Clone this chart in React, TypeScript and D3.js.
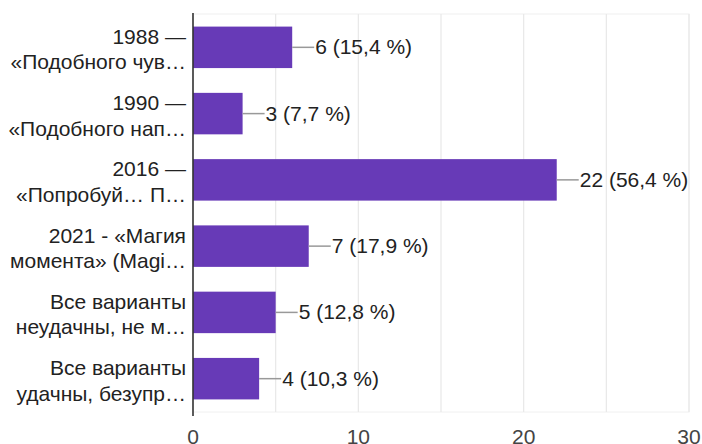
import * as d3 from "d3";
import { useEffect, useRef } from "react";

const categories: string[][] = [
  ["1988 —", "«Подобного чув…"],
  ["1990 —", "«Подобного нап…"],
  ["2016 —", "«Попробуй… П…"],
  ["2021 - «Магия", "момента» (Magi…"],
  ["Все варианты", "неудачны, не м…"],
  ["Все варианты", "удачны, безупр…"],
];
const counts = [6, 3, 22, 7, 5, 4];
const percents = ["15,4", "7,7", "56,4", "17,9", "12,8", "10,3"];
const xTicks = [0, 10, 20, 30];
const gridTicks = [5, 10, 15, 20, 25, 30];

function App() {
  const ref = useRef<SVGSVGElement>(null);

  useEffect(() => {
    const width = 702;
    const height = 444;
    const left = 193;
    const right = 689;
    const top = 14;
    const bottom = 412;
    const font = "'Liberation Sans', Arial, sans-serif";

    const svg = d3.select(ref.current).attr("width", width).attr("height", height);

    const x = d3.scaleLinear().domain([0, 30]).range([left, right]);
    const y = d3
      .scaleBand<number>()
      .domain(d3.range(counts.length))
      .range([top, bottom])
      .paddingInner(0.374)
      .paddingOuter(0.19);

    // chart area frame + gridlines
    svg
      .append("rect")
      .attr("x", left)
      .attr("y", top)
      .attr("width", right - left)
      .attr("height", bottom - top)
      .attr("fill", "none")
      .attr("stroke", "#f0f0f0")
      .attr("stroke-width", 1);

    svg
      .append("g")
      .selectAll("line")
      .data(gridTicks)
      .join("line")
      .attr("x1", (d) => x(d))
      .attr("x2", (d) => x(d))
      .attr("y1", top)
      .attr("y2", bottom)
      .attr("stroke", "#e8e8e8")
      .attr("stroke-width", 1.2);

    // bars
    svg
      .append("g")
      .selectAll("rect")
      .data(counts)
      .join("rect")
      .attr("x", x(0))
      .attr("y", (_, i) => y(i)!)
      .attr("width", (d) => x(d) - x(0))
      .attr("height", y.bandwidth())
      .attr("fill", "#673ab7");

    // axis line
    svg
      .append("line")
      .attr("x1", left)
      .attr("x2", left)
      .attr("y1", top - 1)
      .attr("y2", bottom + 4)
      .attr("stroke", "#333")
      .attr("stroke-width", 1.6);

    // leader lines + value labels
    const ann = svg.append("g");
    ann
      .selectAll("line")
      .data(counts)
      .join("line")
      .attr("x1", (d) => x(d))
      .attr("x2", (d) => x(d) + 22)
      .attr("y1", (_, i) => y(i)! + y.bandwidth() / 2)
      .attr("y2", (_, i) => y(i)! + y.bandwidth() / 2)
      .attr("stroke", "#999")
      .attr("stroke-width", 1.5);

    ann
      .selectAll("text")
      .data(counts)
      .join("text")
      .attr("x", (d) => x(d) + 23)
      .attr("y", (_, i) => y(i)! + y.bandwidth() / 2 + 7)
      .style("font", `21px ${font}`)
      .attr("fill", "#222")
      .text((d, i) => `${d} (${percents[i]} %)`);

    // category labels (two lines)
    const cat = svg
      .append("g")
      .selectAll("text")
      .data(categories)
      .join("text")
      .attr("text-anchor", "end")
      .style("font", `21px ${font}`)
      .attr("fill", "#222");
    cat
      .append("tspan")
      .attr("x", 186)
      .attr("y", (_, i) => y(i)! + y.bandwidth() / 2 - 3.5)
      .text((d) => d[0]);
    cat
      .append("tspan")
      .attr("x", 186)
      .attr("y", (_, i) => y(i)! + y.bandwidth() / 2 + 22)
      .text((d) => d[1]);

    // x tick labels
    svg
      .append("g")
      .selectAll("text")
      .data(xTicks)
      .join("text")
      .attr("x", (d) => x(d))
      .attr("y", 444)
      .attr("text-anchor", "middle")
      .style("font", `21px ${font}`)
      .attr("fill", "#444")
      .text((d) => d);

    return () => {
      svg.selectAll("*").remove();
    };
  }, []);

  return (
    <div>
      <svg
        ref={ref}
        style={{ position: "fixed", left: 0, top: 0, background: "#fff", display: "block" }}
      ></svg>
    </div>
  );
}

export default App;
